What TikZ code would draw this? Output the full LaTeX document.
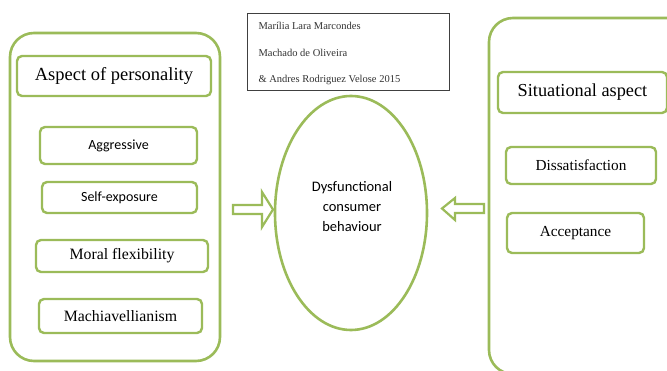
\documentclass[tikz,border=0pt]{standalone}
\usepackage{fontspec}
\setmainfont{Liberation Serif}
\newfontfamily\calfont{Carlito}
\usetikzlibrary{shapes.geometric}
\definecolor{ogreen}{HTML}{9BBB59}
\definecolor{framegray}{HTML}{404040}
\tikzset{
  bigbox/.style={draw=ogreen, line width=2.6pt, rounded corners=24pt},
  itembox/.style={draw=ogreen, line width=2.4pt, rounded corners=5pt, inner sep=0pt},
  hollowarrow/.style={draw=ogreen, line width=2.2pt, fill=white, line join=miter},
  citetext/.style={anchor=west, font=\fontsize{10.5}{12}\selectfont, text=black!80},
}
\begin{document}
\begin{tikzpicture}[x=1pt,y=-1pt]
\clip (0,0) rectangle (667,371);
\useasboundingbox (0,0) rectangle (667,371);
\fill[white] (0,0) rectangle (667,371);
% big containers
\draw[bigbox] (10,33) rectangle (220,361);
\draw[bigbox] (489,18) rectangle (700,374);
% left items
\node[itembox, minimum width=194pt, minimum height=40pt, font=\fontsize{18.5}{22}\selectfont] (aop) at (114,76) {Aspect of personality};
\node[itembox, minimum width=157pt, minimum height=37pt, font=\calfont\fontsize{14}{16}\selectfont] (agg) at (118.5,145.5) {Aggressive};
\node[itembox, minimum width=155pt, minimum height=31pt, font=\calfont\fontsize{14}{16}\selectfont] (self) at (119.5,197.5) {Self-exposure};
\node[itembox, minimum width=172pt, minimum height=32pt, font=\fontsize{15.8}{18}\selectfont] (moral) at (122,256) {Moral flexibility};
\node[itembox, minimum width=163pt, minimum height=34pt, font=\fontsize{15.8}{18}\selectfont] (mach) at (120.5,316) {Machiavellianism};
% right items
\node[itembox, minimum width=169pt, minimum height=41pt, font=\fontsize{18.3}{22}\selectfont] (sit) at (582.5,92.5) {Situational aspect};
\node[itembox, minimum width=150pt, minimum height=37pt, font=\fontsize{15.3}{18}\selectfont] (dis) at (581,165.5) {Dissatisfaction};
\node[itembox, minimum width=137pt, minimum height=40pt, font=\fontsize{15.3}{18}\selectfont] (acc) at (575.5,233) {Acceptance};
% citation box
\node[draw=framegray, line width=1pt, minimum width=202pt, minimum height=77pt, inner sep=0pt] (cite) at (348,52.5) {};
\node[citetext] (c1) at (255,26) {Marília Lara Marcondes};
\node[citetext] (c2) at (255,53) {Machado de Oliveira};
\node[citetext] (c3) at (255,80) {\& Andres Rodriguez Velose 2015};
% ellipse
\node[ellipse, draw=ogreen, line width=2.6pt, minimum width=152pt, minimum height=234pt, inner sep=0pt] (dcb) at (351,213) {};
\node[align=center, font=\calfont\fontsize{14.5}{20}\selectfont] (dcbtext) at (352,207) {Dysfunctional\\consumer\\behaviour};
% hollow arrows
\coordinate (la) at (273,209.5);
\draw[hollowarrow] (233,205) -- (262,205) -- (262,192) -- (la) -- (262,227) -- (262,214) -- (233,214) -- cycle;
\coordinate (ra) at (442,208.5);
\draw[hollowarrow] (484,204) -- (455,204) -- (455,198) -- (ra) -- (455,220) -- (455,213) -- (484,213) -- cycle;
\end{tikzpicture}
\end{document}
